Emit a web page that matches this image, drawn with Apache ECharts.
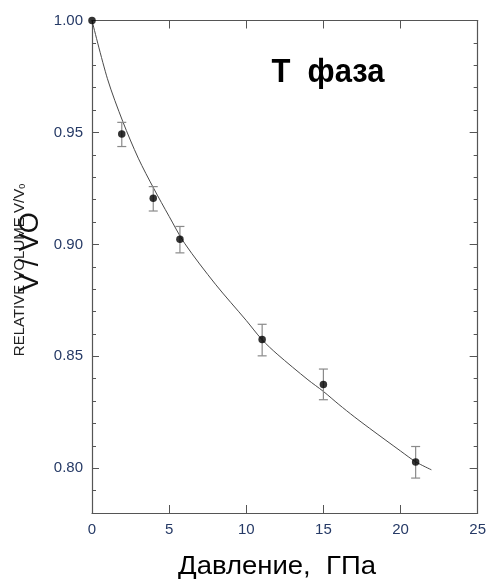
<!DOCTYPE html>
<html>
<head>
<meta charset="utf-8">
<script src="https://cdn.jsdelivr.net/npm/echarts@6/dist/echarts.min.js"></script>
<style>
html,body{margin:0;padding:0;background:#fff;}
#chart{width:489px;height:583px;}
</style>
</head>
<body>
<div id="chart"></div>
<script>
// Measured points (pressure, relative volume) with error bar limits
const pressure = [0, 1.93, 3.97, 5.70, 11.03, 15.0, 20.98];
const relVolume = [1.000, 0.9493, 0.9206, 0.9023, 0.8575, 0.8374, 0.8028];
const errLow  = [null, 0.9437, 0.9149, 0.8962, 0.8502, 0.8306, 0.7956];
const errHigh = [null, 0.9545, 0.9258, 0.9080, 0.8643, 0.8443, 0.8097];

// Fitted curve
const curveP = [0, 1, 2, 3, 4, 5, 6, 8, 10, 11, 12, 14, 15, 16, 17, 18, 20, 21, 22];
const curveV = [1.000, 0.9740, 0.9548, 0.9385, 0.9250, 0.9125, 0.9005, 0.8822, 0.8660, 0.8576, 0.8510, 0.8395, 0.8343, 0.8285, 0.8230, 0.8178, 0.8077, 0.8028, 0.7993];

const xTicks = [0, 5, 10, 15, 20, 25];
const yMajor = [0.80, 0.85, 0.90, 0.95, 1.00];

const labelColor = '#263a66';
const axisColor = '#555';
const font = '"Liberation Sans", Arial, sans-serif';

const chart = echarts.init(document.getElementById('chart'), null, {renderer: 'canvas'});

const pts = pressure.map((p, i) => [p, relVolume[i]]);
const errs = [];
pressure.forEach((p, i) => { if (errLow[i] != null) errs.push([p, errLow[i], errHigh[i]]); });
const curve = curveP.map((p, i) => [p, curveV[i]]);

const grid = {left: 92, right: 11, top: 20.5, bottom: 70, containLabel: false};

const option = {
  animation: false,
  backgroundColor: '#fff',
  grid: grid,
  xAxis: [
    {
      type: 'value', position: 'bottom', min: 0, max: 25, interval: 5,
      axisLine: {show: true, lineStyle: {color: axisColor, width: 1.2}},
      axisTick: {show: true, inside: true, length: 8, lineStyle: {color: axisColor}},
      axisLabel: {color: labelColor, fontSize: 15, fontFamily: font, margin: 9,
        customValues: xTicks},
      splitLine: {show: false}
    },
    {
      type: 'value', position: 'top', min: 0, max: 25, interval: 5,
      axisLine: {show: true, lineStyle: {color: axisColor, width: 1.2}},
      axisTick: {show: true, inside: true, length: 8, lineStyle: {color: axisColor}},
      axisLabel: {show: false},
      splitLine: {show: false}
    }
  ],
  yAxis: [
    {
      type: 'value', position: 'left', min: 0.78, max: 1.0,
      axisLine: {show: true, lineStyle: {color: axisColor, width: 1.2}},
      axisTick: {show: true, inside: true, length: 7, customValues: yMajor, lineStyle: {color: axisColor}},
      axisLabel: {color: labelColor, fontSize: 15, fontFamily: font, margin: 9,
        customValues: yMajor, formatter: v => v.toFixed(2)},
      splitLine: {show: false}
    },
    {
      type: 'value', position: 'left', min: 0.78, max: 1.0, interval: 0.01,
      axisLine: {show: false},
      axisTick: {show: true, inside: true, length: 4, lineStyle: {color: axisColor}},
      axisLabel: {show: false},
      splitLine: {show: false}
    },
    {
      type: 'value', position: 'right', min: 0.78, max: 1.0,
      axisLine: {show: true, lineStyle: {color: axisColor, width: 1.2}},
      axisTick: {show: true, inside: true, length: 8, customValues: yMajor, lineStyle: {color: axisColor}},
      axisLabel: {show: false},
      splitLine: {show: false}
    },
    {
      type: 'value', position: 'right', min: 0.78, max: 1.0, interval: 0.01,
      axisLine: {show: false},
      axisTick: {show: true, inside: true, length: 4, lineStyle: {color: axisColor}},
      axisLabel: {show: false},
      splitLine: {show: false}
    }
  ],
  series: [
    {
      name: 'fit', type: 'line', xAxisIndex: 0, yAxisIndex: 0,
      data: curve, smooth: 0.3, showSymbol: false, symbol: 'none',
      lineStyle: {color: '#4a4a4a', width: 1}, z: 2
    },
    {
      name: 'err', type: 'custom', xAxisIndex: 0, yAxisIndex: 0,
      data: errs,
      renderItem: function (params, api) {
        const x = api.value(0);
        const lo = api.coord([x, api.value(1)]);
        const hi = api.coord([x, api.value(2)]);
        const w = 4.5;
        const st = {stroke: '#8a8a8a', lineWidth: 1.2};
        return {
          type: 'group',
          children: [
            {type: 'line', shape: {x1: lo[0], y1: lo[1], x2: hi[0], y2: hi[1]}, style: st},
            {type: 'line', shape: {x1: lo[0] - w, y1: lo[1], x2: lo[0] + w, y2: lo[1]}, style: st},
            {type: 'line', shape: {x1: hi[0] - w, y1: hi[1], x2: hi[0] + w, y2: hi[1]}, style: st}
          ]
        };
      },
      z: 3
    },
    {
      name: 'data', type: 'scatter', xAxisIndex: 0, yAxisIndex: 0,
      data: pts, symbol: 'circle', symbolSize: 7.5,
      itemStyle: {color: '#000'}, z: 4
    }
  ],
  graphic: [
    {
      type: 'text', x: 20, y: 270, rotation: Math.PI / 2,
      style: {
        text: 'RELATIVE VOLUME V/V{s|0}',
        rich: {s: {fontSize: 9, fontFamily: font, fill: '#222', padding: [6, 0, 0, 0]}},
        font: '15px ' + font, fill: '#222', align: 'center', verticalAlign: 'middle'
      }
    },
    {
      type: 'text', x: 31, y: 252, rotation: Math.PI / 2,
      style: {
        text: 'V / VO',
        font: '27px ' + font, fill: '#111', align: 'center', verticalAlign: 'middle'
      }
    },
    {
      type: 'text', x: 328, y: 73, scaleY: 1.1,
      style: {
        text: 'Т  фаза',
        font: 'bold 31px ' + font, fill: '#000', align: 'center', verticalAlign: 'middle'
      }
    },
    {
      type: 'text', x: 277, y: 567, scaleX: 1.1,
      style: {
        text: 'Давление,  ГПа',
        font: '25px ' + font, fill: '#000', align: 'center', verticalAlign: 'middle'
      }
    }
  ]
};
chart.setOption(option);
</script>
</body>
</html>
